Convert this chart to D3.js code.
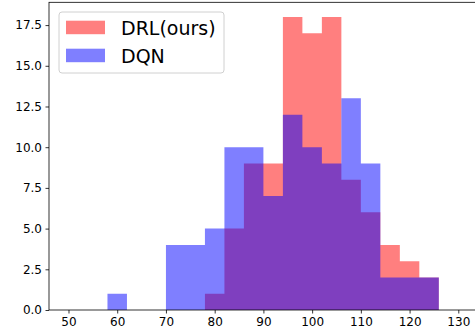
<!DOCTYPE html>
<html>
<head>
<meta charset="utf-8">
<script src="https://cdn.jsdelivr.net/npm/d3@7"></script>
<style>
  html, body { margin: 0; padding: 0; background: #fff; }
  svg { display: block; }
  text { font-family: "DejaVu Sans", sans-serif; }
</style>
</head>
<body>
<svg id="chart" width="475" height="334"></svg>
<script>
// Histogram bins: left edges, width 4
const binEdges = [50, 54, 58, 62, 66, 70, 74, 78, 82, 86, 90, 94, 98, 102, 106, 110, 114, 118, 122, 126, 130];
const drlCounts = [0, 0, 0, 0, 0, 0, 0, 1, 5, 9, 9, 18, 17, 18, 8, 6, 4, 3, 2, 0];
const dqnCounts = [0, 0, 1, 0, 0, 4, 4, 5, 10, 10, 7, 12, 10, 9, 13, 9, 2, 2, 2, 0];
const seriesNames = ["DRL(ours)", "DQN"];
const xTicks = [50, 60, 70, 80, 90, 100, 110, 120, 130];
const yTicks = [0, 2.5, 5, 7.5, 10, 12.5, 15, 17.5];

const svg = d3.select("#chart");
const plotLeft = 49, plotTop = 2.3, plotRight = 477.8, plotBottom = 310;

const x = d3.scaleLinear().domain([46, 134]).range([plotLeft, plotRight]);
const y = d3.scaleLinear().domain([0, 18.9]).range([plotBottom, plotTop]);

const series = [
  { name: seriesNames[0], counts: drlCounts, color: "red" },
  { name: seriesNames[1], counts: dqnCounts, color: "blue" }
];

// Bars of each series go into one path so neighbouring bins leave no seams;
// red first, then blue on top, each half transparent
series.forEach(s => {
  const p = d3.path();
  s.counts.forEach((c, i) => {
    if (c <= 0) return;
    const x0 = x(binEdges[i]), x1 = x(binEdges[i + 1]);
    p.rect(x0, y(c), x1 - x0, y(0) - y(c));
  });
  svg.append("path")
    .attr("d", p.toString())
    .attr("fill", s.color)
    .attr("fill-opacity", 0.5)
    .attr("fill-rule", "nonzero");
});

// Axes
const xAxis = d3.axisBottom(x).tickValues(xTicks).tickFormat(d3.format("d")).tickSize(3.5).tickPadding(3.5);
const yAxis = d3.axisLeft(y).tickValues(yTicks).tickFormat(d3.format(".1f")).tickSize(3.5).tickPadding(3.5);

const gx = svg.append("g").attr("transform", `translate(0,${plotBottom})`).call(xAxis);
const gy = svg.append("g").attr("transform", `translate(${plotLeft},0)`).call(yAxis);
[gx, gy].forEach(g => {
  g.select(".domain").remove();
  g.selectAll(".tick line").attr("stroke", "#000").attr("stroke-width", 0.8);
  g.selectAll(".tick text").attr("font-size", 12).attr("fill", "#000")
    .attr("font-family", "DejaVu Sans, sans-serif");
});

// Spines
svg.append("rect")
  .attr("x", plotLeft).attr("y", plotTop)
  .attr("width", plotRight - plotLeft).attr("height", plotBottom - plotTop)
  .attr("fill", "none").attr("stroke", "#000").attr("stroke-width", 0.8);

// Legend
const lg = svg.append("g");
lg.append("rect")
  .attr("x", 59).attr("y", 12).attr("width", 165).attr("height", 61)
  .attr("rx", 3).attr("ry", 3)
  .attr("fill", "#fff").attr("fill-opacity", 0.8)
  .attr("stroke", "#d0d0d0").attr("stroke-width", 1);
series.forEach((s, i) => {
  const yy = 20.7 + i * 28;
  lg.append("rect")
    .attr("x", 66).attr("y", yy).attr("width", 39).attr("height", 13.5)
    .attr("fill", s.color).attr("fill-opacity", 0.5);
  lg.append("text")
    .attr("x", 121).attr("y", yy + 14)
    .attr("font-size", 19).attr("fill", "#000")
    .text(s.name);
});
</script>
</body>
</html>
